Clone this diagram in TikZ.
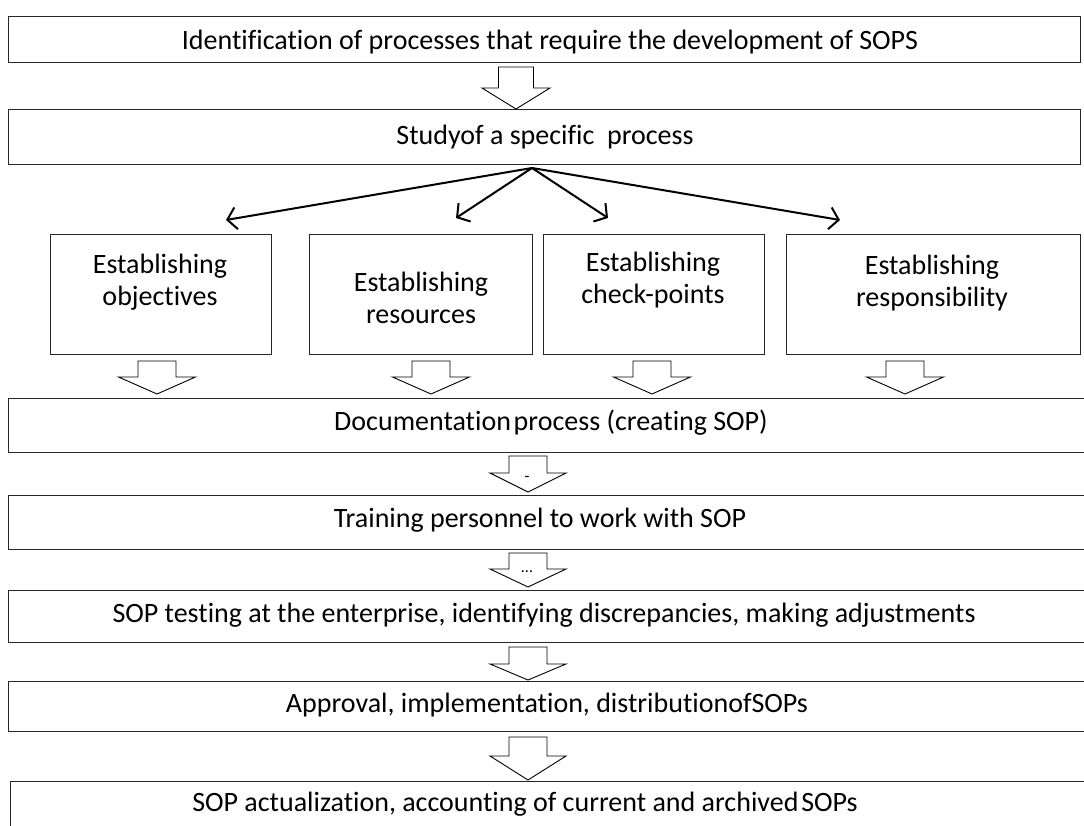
\documentclass[tikz,border=0pt]{standalone}
\usepackage{fontspec}
\setmainfont{Carlito}[Ligatures={NoCommon}]
\usetikzlibrary{arrows.meta}
\tikzset{
  box/.style={draw=black!85, line width=1.3pt, fill=white, inner sep=0pt, anchor=north west},
  txt/.style={font=\fontsize{28}{32}\selectfont, inner sep=0pt, align=center, text=black},
  barrow/.style={draw=black, line width=0.9pt, fill=white, line join=miter},
  fan/.style={draw=black, line width=2pt, -{Straight Barb[length=9pt,width=22pt,line width=2pt]}},
}
% block arrow: cx, ytop, yhead, ytip, shaft half, head half
\newcommand\blockarr[6]{%
  \draw[barrow] ({#1-#5},#2) -- ({#1+#5},#2) -- ({#1+#5},#3) -- ({#1+#6},#3) -- (#1,#4)
    -- ({#1-#6},#3) -- ({#1-#5},#3) -- cycle;}
\begin{document}
\begin{tikzpicture}[x=1pt,y=-1pt]
\useasboundingbox (0,0) rectangle (1084,826);
\clip (0,0) rectangle (1084,826);
\fill[white] (0,0) rectangle (1084,826);

% boxes
\node[box, minimum width=1072pt, minimum height=46pt] (b1) at (8,16) {};
\node[txt] (t1) at (550,42) {Identification of processes that require the development of SOPS};

\node[box, minimum width=1072pt, minimum height=55pt] (b2) at (8,109) {};
\node[txt] (t2) at (545,137) {Studyof a specific\ \ process};

\node[box, minimum width=221pt, minimum height=120pt] (obj) at (50,234) {};
\node[txt] (tobj) at (160,282) {Establishing\\objectives};
\node[box, minimum width=223pt, minimum height=120pt] (res) at (309,234) {};
\node[txt] (tres) at (421,298) {Establishing\\resources};
\node[box, minimum width=221pt, minimum height=120pt] (chk) at (543,234) {};
\node[txt] (tchk) at (653,280) {Establishing\\check-points};
\node[box, minimum width=294pt, minimum height=120pt] (rsp) at (786,234) {};
\node[txt] (trsp) at (932,283) {Establishing\\responsibility};

\node[box, minimum width=1092pt, minimum height=54pt] (doc) at (8,398) {};
\node[txt] (tdoc) at (551,423) {Documentation\hspace{0.1em}process (creating SOP)};

\node[box, minimum width=1092pt, minimum height=54pt] (trn) at (8,495) {};
\node[txt] (ttrn) at (540,520) {Training personnel to work with SOP};

\node[box, minimum width=1092pt, minimum height=52pt] (tst) at (8,590) {};
\node[txt] (ttst) at (544,615) {SOP testing at the enterprise, identifying discrepancies, making adjustments};

\node[box, minimum width=1092pt, minimum height=50pt] (apr) at (8,681) {};
\node[txt] (tapr) at (547,705) {Approval, implementation, distributionofSOPs};

\node[box, minimum width=1092pt, minimum height=80pt] (lst) at (10,781) {};
\node[txt] (tlst) at (525,804) {SOP actualization, accounting of current and archived\hspace{0.1em}SOPs};

% fan arrows
\coordinate (apex) at (532,168);
\coordinate (e1) at (226,220);
\coordinate (e2) at (456,218);
\coordinate (e3) at (608,218);
\coordinate (e4) at (840,220);
\draw[fan] (apex) -- (e1);
\draw[fan] (apex) -- (e2);
\draw[fan] (apex) -- (e3);
\draw[fan] (apex) -- (e4);

% block arrows
\blockarr{516}{67}{88}{109}{17.5}{34}
\blockarr{157}{361}{377}{394}{19}{38.5}
\blockarr{431}{361}{377}{394}{19}{38.5}
\blockarr{652}{361}{377}{394}{19}{38.5}
\blockarr{905}{361}{377}{394}{19}{38.5}
\blockarr{528}{456}{473}{492}{19}{38}
\node[font=\fontsize{16}{16}\selectfont, inner sep=0pt] (dash) at (527,479) {-};
\blockarr{528}{553}{569}{587}{19}{38}
\node[font=\fontsize{16}{16}\selectfont, inner sep=0pt] (dots) at (527,572) {...};
\blockarr{528}{647}{664}{680}{19}{38}
\blockarr{528}{737}{756}{780}{19}{38}
\end{tikzpicture}
\end{document}
